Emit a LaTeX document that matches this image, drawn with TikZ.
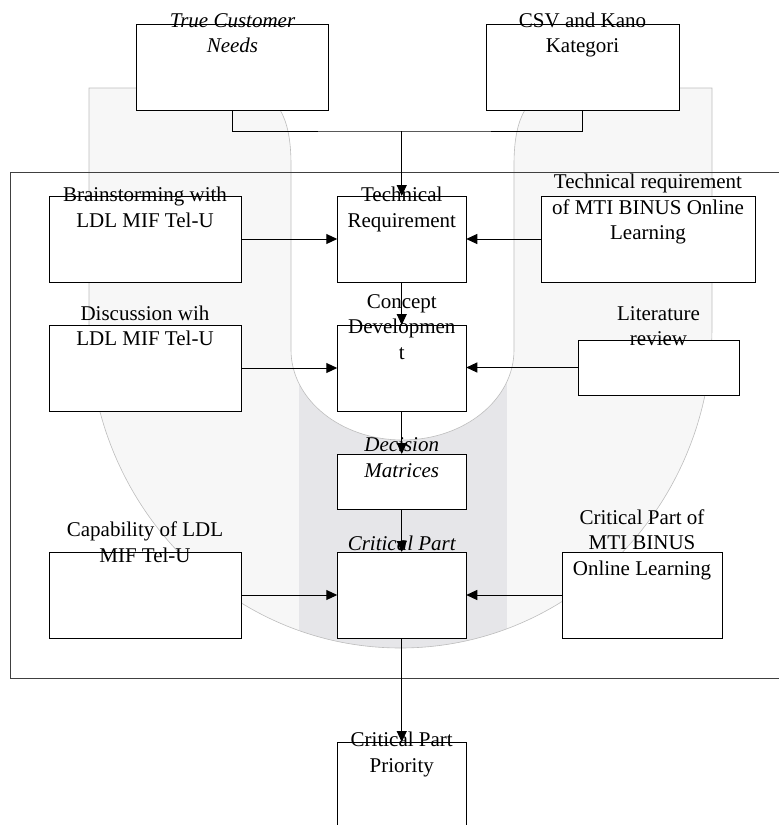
\documentclass[tikz,border=0pt]{standalone}
\usepackage{fontspec}
\setmainfont{Liberation Serif}
\usetikzlibrary{arrows.meta}
\definecolor{lightfill}{HTML}{F7F7F7}
\definecolor{bandfill}{HTML}{E6E6E9}
\definecolor{shapeline}{HTML}{BDBDBD}
\definecolor{frameline}{HTML}{404040}
\begin{document}
\begin{tikzpicture}[x=1pt,y=-1pt,
  box/.style={draw=black, line width=1pt, fill=white, inner sep=0pt, outer sep=0pt},
  txt/.style={anchor=base, align=center, inner sep=0pt, font=\fontsize{21}{25.5}\selectfont},
  itxt/.style={anchor=base, align=center, inner sep=0pt, font=\fontsize{21}{25.5}\selectfont\itshape},
  conn/.style={line width=1pt, black},
  arr/.style={line width=1pt, black, -{Triangle[length=11pt,width=10pt]}},
  bgline/.style={draw=shapeline, line width=0.6pt}
]
\useasboundingbox (0,0) rectangle (779,825);

% background: outer light U shape
\fill[lightfill] (89,88) -- (712,88) -- (712,327)
  arc[start angle=0,end angle=-180,x radius=311.5pt,y radius=321pt] -- cycle;
% darker central band, clipped to the outer shape
\begin{scope}
  \clip (89,88) -- (712,88) -- (712,327)
    arc[start angle=0,end angle=-180,x radius=311.5pt,y radius=321pt] -- cycle;
  \fill[bandfill] (298.5,88) rectangle (507,700);
\end{scope}
\draw[bgline] (89,88) -- (712,88) -- (712,327)
  arc[start angle=0,end angle=-180,x radius=311.5pt,y radius=321pt] -- cycle;
% inner white U cut-out
\fill[white] (250,88) .. controls (282,96) and (291,125) .. (291,165) -- (291,350)
  arc[start angle=180,end angle=360,x radius=111.5pt,y radius=90pt]
  -- (514,165) .. controls (514,125) and (523,96) .. (555,88)
  -- (555,84) -- (250,84) -- cycle;
\draw[bgline] (250,88) .. controls (282,96) and (291,125) .. (291,165) -- (291,350)
  arc[start angle=180,end angle=360,x radius=111.5pt,y radius=90pt]
  -- (514,165) .. controls (514,125) and (523,96) .. (555,88);

% outer frame
\draw[frameline, line width=1pt] (10,172) rectangle (800,678);

% boxes
\node[box, minimum width=192pt, minimum height=86pt] (tcn)   at (232.5,67) {};
\node[box, minimum width=193pt, minimum height=86pt] (csv)   at (582.5,67) {};
\node[box, minimum width=192pt, minimum height=86pt] (brain) at (145,239) {};
\node[box, minimum width=129pt, minimum height=86pt] (treq)  at (401.75,239) {};
\node[box, minimum width=214pt, minimum height=86pt] (tmti)  at (648,239) {};
\node[box, minimum width=192pt, minimum height=86pt] (disc)  at (145,368) {};
\node[box, minimum width=129pt, minimum height=86pt] (cdev)  at (401.75,368) {};
\node[box, minimum width=161pt, minimum height=55pt] (lit)   at (658.5,367.5) {};
\node[box, minimum width=129pt, minimum height=55pt] (dec)   at (401.75,481.5) {};
\node[box, minimum width=192pt, minimum height=86pt] (cap)   at (145,595) {};
\node[box, minimum width=129pt, minimum height=86pt] (crit)  at (401.75,595) {};
\node[box, minimum width=160pt, minimum height=86pt] (cmti)  at (642,595) {};
\node[box, minimum width=129pt, minimum height=100pt] (prio) at (401.75,792) {};

% connectors
\coordinate (jn) at (401.75,131);
\draw[conn] (tcn.south) |- (jn) -| (csv.south);
\draw[arr] (jn) -- (treq.north);
\draw[arr] (brain.east) -- (treq.west);
\draw[arr] (tmti.west) -- (treq.east);
\draw[arr] (treq.south) -- (cdev.north);
\draw[arr] (disc.east) -- (cdev.west);
\draw[arr] (lit.west) -- (lit.west -| cdev.east);
\draw[arr] (cdev.south) -- (dec.north);
\draw[arr] (dec.south) -- (crit.north);
\draw[arr] (cap.east) -- (crit.west);
\draw[arr] (cmti.west) -- (crit.east);
\draw[arr] (crit.south) -- (prio.north);

% texts (anchor = baseline of the last line)
\node[itxt] (tcnT)   at (232.5,52.5)   {True Customer\\Needs};
\node[txt]  (csvT)   at (582.5,52.5)   {CSV and Kano\\Kategori};
\node[txt]  (brainT) at (145,227.2)    {Brainstorming with\\LDL MIF Tel-U};
\node[txt]  (treqT)  at (401.75,227.2) {Technical\\Requirement};
\node[txt]  (tmtiT)  at (648,239.5)    {Technical requirement\\of MTI BINUS Online\\Learning};
\node[txt]  (discT)  at (145,345.5)    {Discussion wih\\LDL MIF Tel-U};
\node[txt]  (cdevT)  at (401.75,359)   {Concept\\Developmen\\t};
\node[txt]  (litT)   at (658.5,345.5)  {Literature\\review};
\node[itxt] (decT)   at (401.75,477.2) {Decision\\Matrices};
\node[txt]  (capT)   at (145,562.2)    {Capability of LDL\\MIF Tel-U};
\node[itxt] (critT)  at (401.75,550)   {Critical Part};
\node[txt]  (cmtiT)  at (642,575)      {Critical Part of\\MTI BINUS\\Online Learning};
\node[txt]  (prioT)  at (401.75,772.2) {Critical Part\\Priority};
\end{tikzpicture}
\end{document}
